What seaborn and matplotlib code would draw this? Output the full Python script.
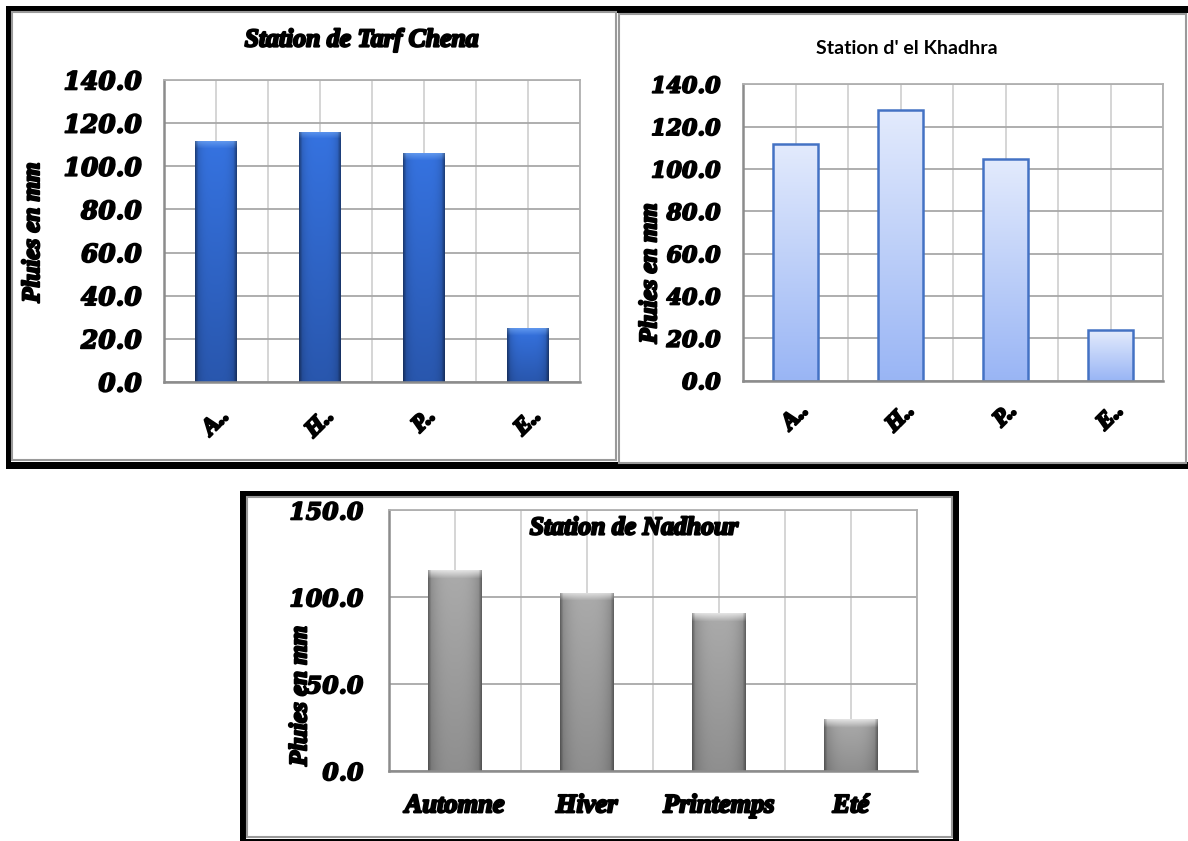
import numpy as np
import matplotlib
matplotlib.use("Agg")
import matplotlib.pyplot as plt
import seaborn as sns
from matplotlib import patheffects as pe
from matplotlib.patches import Rectangle

# ---- data: mean seasonal rainfall (mm) at three stations ----
seasons_full = ["Automne", "Hiver", "Printemps", "Eté"]
seasons_short = ["A..", "H..", "P..", "E.."]
tarf_chena = [111.5, 116.0, 106.0, 25.0]
el_khadhra = [112.0, 128.0, 104.5, 24.0]
nadhour = [115.5, 102.5, 90.5, 29.5]

ticks_top = [0, 20, 40, 60, 80, 100, 120, 140]
ticks_bottom = [0, 50, 100, 150]

title_tarf = "Station de Tarf Chena"
title_khadhra = "Station d' el Khadhra"
title_nadhour = "Station de Nadhour"
y_label = "Pluies en mm"

sns.set_style("white")
plt.rcParams["font.family"] = ["DejaVu Sans"]
plt.rcParams["text.color"] = "black"
plt.rcParams["xtick.color"] = "black"
plt.rcParams["ytick.color"] = "black"
plt.rcParams["axes.labelcolor"] = "black"

W, H = 1188, 841
fig = plt.figure(figsize=(W / 100, H / 100), dpi=100)
fig.patch.set_facecolor("white")

NUM = dict(family="DejaVu Serif", weight="bold", style="italic")
WORD = dict(family="Liberation Serif", weight="bold", style="italic")
heavy = [pe.withStroke(linewidth=1.6, foreground="black")]
heavy_num = [pe.withStroke(linewidth=1.2, foreground="black")]


def axes_px(l, t, r, b):
    return fig.add_axes([l / W, 1 - b / H, (r - l) / W, (b - t) / H])


def fig_rect(l, t, r, b, **kw):
    fig.add_artist(Rectangle((l / W, 1 - b / H), (r - l) / W, (b - t) / H,
                             transform=fig.transFigure, zorder=-5, **kw))


# ---- panel frames ----
fig_rect(6, 6, 617, 11.5, facecolor="black", edgecolor="none")
fig_rect(617, 6, 1188, 13, facecolor="black", edgecolor="none")
fig_rect(6, 462, 1188, 469, facecolor="black", edgecolor="none")
fig_rect(6, 6, 10.5, 469, facecolor="black", edgecolor="none")
fig_rect(11.5, 12.5, 615.5, 460.5, facecolor="none", edgecolor="#9a9a9a", linewidth=1.5)
fig_rect(619, 14.5, 1186, 463, facecolor="none", edgecolor="#9a9a9a", linewidth=1.5)

fig_rect(240, 491, 959, 841, facecolor="black", edgecolor="none")
fig_rect(246, 496, 953, 839, facecolor="white", edgecolor="none")
fig_rect(247, 497, 951.5, 837, facecolor="none", edgecolor="#9a9a9a", linewidth=1.5)

ax1 = axes_px(164, 80, 580, 382)
ax2 = axes_px(743, 84.3, 1163, 380.7)
ax3 = axes_px(388.6, 510, 917, 770.7)


def style_axes(ax, yticks, ysize, ypad):
    ax.set_xlim(-0.5, 3.5)
    ax.set_ylim(yticks[0], yticks[-1])
    ax.set_axisbelow(True)
    ax.set_xticks([-0.5, 0.5, 1.5, 2.5, 3.5], minor=True)
    ax.grid(axis="y", color="#a8a8a8", linewidth=1.3)
    ax.grid(axis="x", which="both", color="#d2d2d2", linewidth=1.3)
    for side in ("left", "bottom"):
        ax.spines[side].set_color("#8c8c8c")
        ax.spines[side].set_linewidth(1.8)
    for side in ("top", "right"):
        ax.spines[side].set_color("#b0b0b0")
        ax.spines[side].set_linewidth(1.3)
    ax.tick_params(axis="both", which="both", length=0, labelcolor="black")
    ax.tick_params(axis="y", pad=ypad)
    ax.set_yticks(yticks)
    ax.set_yticklabels([f"{t:.1f}" for t in yticks], size=ysize, **NUM)
    ax.set_xlabel("")
    ax.set_ylabel("")


def shade_bars(ax, kind):
    for p in list(ax.patches):
        x0, y0, w, h = p.get_x(), p.get_y(), p.get_width(), p.get_height()
        (px0, py0) = ax.transData.transform((x0, y0))
        (px1, py1) = ax.transData.transform((x0 + w, y0 + h))
        nr = max(int(abs(py1 - py0)), 2)
        nc = max(int(abs(px1 - px0)), 2)
        u = np.linspace(0, 1, nc)[None, :, None]
        v = np.linspace(0, 1, nr)[:, None, None]
        d = v * nr  # pixel depth from the top of the bar
        if kind == "blue":
            top = np.array([0.21, 0.45, 0.88])
            bot = np.array([0.16, 0.34, 0.68])
            img = top + (bot - top) * v
            img = img * (1 - 0.25 * np.abs(2 * u - 1) ** 4)
            bev = np.clip(1 - d / 7.0, 0, 1)
            img = img * (1 - 0.55 * bev) + np.array([0.50, 0.70, 0.97]) * 0.55 * bev
            edge = 1 - np.clip(1 - np.minimum(u, 1 - u) * nc / 3.0, 0, 1) * 0.25
            img = img * edge
        elif kind == "grey":
            top = np.array([0.67, 0.67, 0.67])
            bot = np.array([0.56, 0.56, 0.56])
            img = top + (bot - top) * v
            img = img * (1 - 0.22 * np.abs(2 * u - 1) ** 3)
            bev = np.clip(1 - d / 8.0, 0, 1)
            img = img * (1 - 0.75 * bev) + np.array([0.96, 0.96, 0.96]) * 0.75 * bev
            edge = 1 - np.clip(1 - np.minimum(u, 1 - u) * nc / 3.0, 0, 1) * 0.25
            img = img * edge
        else:
            top = np.array([0.89, 0.92, 0.99])
            bot = np.array([0.60, 0.71, 0.96])
            img = top + (bot - top) * v
            img = np.broadcast_to(img, (nr, nc, 3))
        img = np.clip(img, 0, 1)
        im = ax.imshow(img, extent=(x0, x0 + w, y0, y0 + h), aspect="auto",
                       origin="upper", interpolation="bilinear",
                       zorder=p.get_zorder() + 0.1)
        im.set_clip_path(p)
        p.set_facecolor("none")
        p.set_zorder(p.get_zorder() + 0.2)
        if kind == "light":
            p.set_edgecolor("#4472c4")
            p.set_linewidth(1.8)
        else:
            p.set_edgecolor("none")


# ---- Tarf Chena ----
sns.barplot(x=seasons_short, y=tarf_chena, color="#2f6bd8", saturation=1,
            width=0.4, ax=ax1)
style_axes(ax1, ticks_top, 18, 16)
shade_bars(ax1, "blue")
ax1.set_xlim(-0.5, 3.5)
ax1.set_ylim(0, 140)
ax1.set_xticks(range(len(seasons_short)))
ax1.set_xticklabels(seasons_short, rotation=45, size=17, **WORD)
ax1.tick_params(axis="x", pad=17)
ax1.set_ylabel(y_label, size=18, va="center", **WORD)
ax1.yaxis.set_label_coords(-0.316, 0.495)
fig.text(362 / W, 1 - 40 / H, title_tarf, ha="center", va="center", size=18.5,
         path_effects=heavy, **WORD)

# ---- El Khadhra ----
sns.barplot(x=seasons_short, y=el_khadhra, color="#c0d0f7", saturation=1,
            width=0.42, ax=ax2)
style_axes(ax2, ticks_top, 16, 16)
shade_bars(ax2, "light")
ax2.set_xlim(-0.5, 3.5)
ax2.set_ylim(0, 140)
ax2.set_xticks(range(len(seasons_short)))
ax2.set_xticklabels(seasons_short, rotation=45, size=17, **WORD)
ax2.tick_params(axis="x", pad=14)
ax2.set_ylabel(y_label, size=18, va="center", **WORD)
ax2.yaxis.set_label_coords(-0.222, 0.362)
fig.text(907 / W, 1 - 48 / H, title_khadhra, ha="center", va="center",
         size=14, family="Lato", weight="bold", color="black")

# ---- Nadhour ----
sns.barplot(x=seasons_full, y=nadhour, color="#a6a6a6", saturation=1,
            width=0.405, ax=ax3)
style_axes(ax3, ticks_bottom, 17, 18)
shade_bars(ax3, "grey")
ax3.set_xlim(-0.5, 3.5)
ax3.set_ylim(0, 150)
ax3.set_xticks(range(len(seasons_full)))
ax3.set_xticklabels(seasons_full, size=19, **WORD)
ax3.tick_params(axis="x", pad=17)
ax3.set_ylabel(y_label, size=18, va="center", **WORD)
ax3.yaxis.set_label_coords(-0.168, 0.287)
ax3.text(0.465, 0.931, title_nadhour, transform=ax3.transAxes, ha="center",
         va="center", size=18.5, path_effects=heavy, **WORD)

for ax in (ax1, ax2, ax3):
    for lbl in ax.get_xticklabels():
        lbl.set_path_effects(heavy)
    for lbl in ax.get_yticklabels():
        lbl.set_path_effects(heavy_num)
    ax.yaxis.label.set_path_effects(heavy)

fig.savefig("out.png", dpi=100, facecolor="white")
